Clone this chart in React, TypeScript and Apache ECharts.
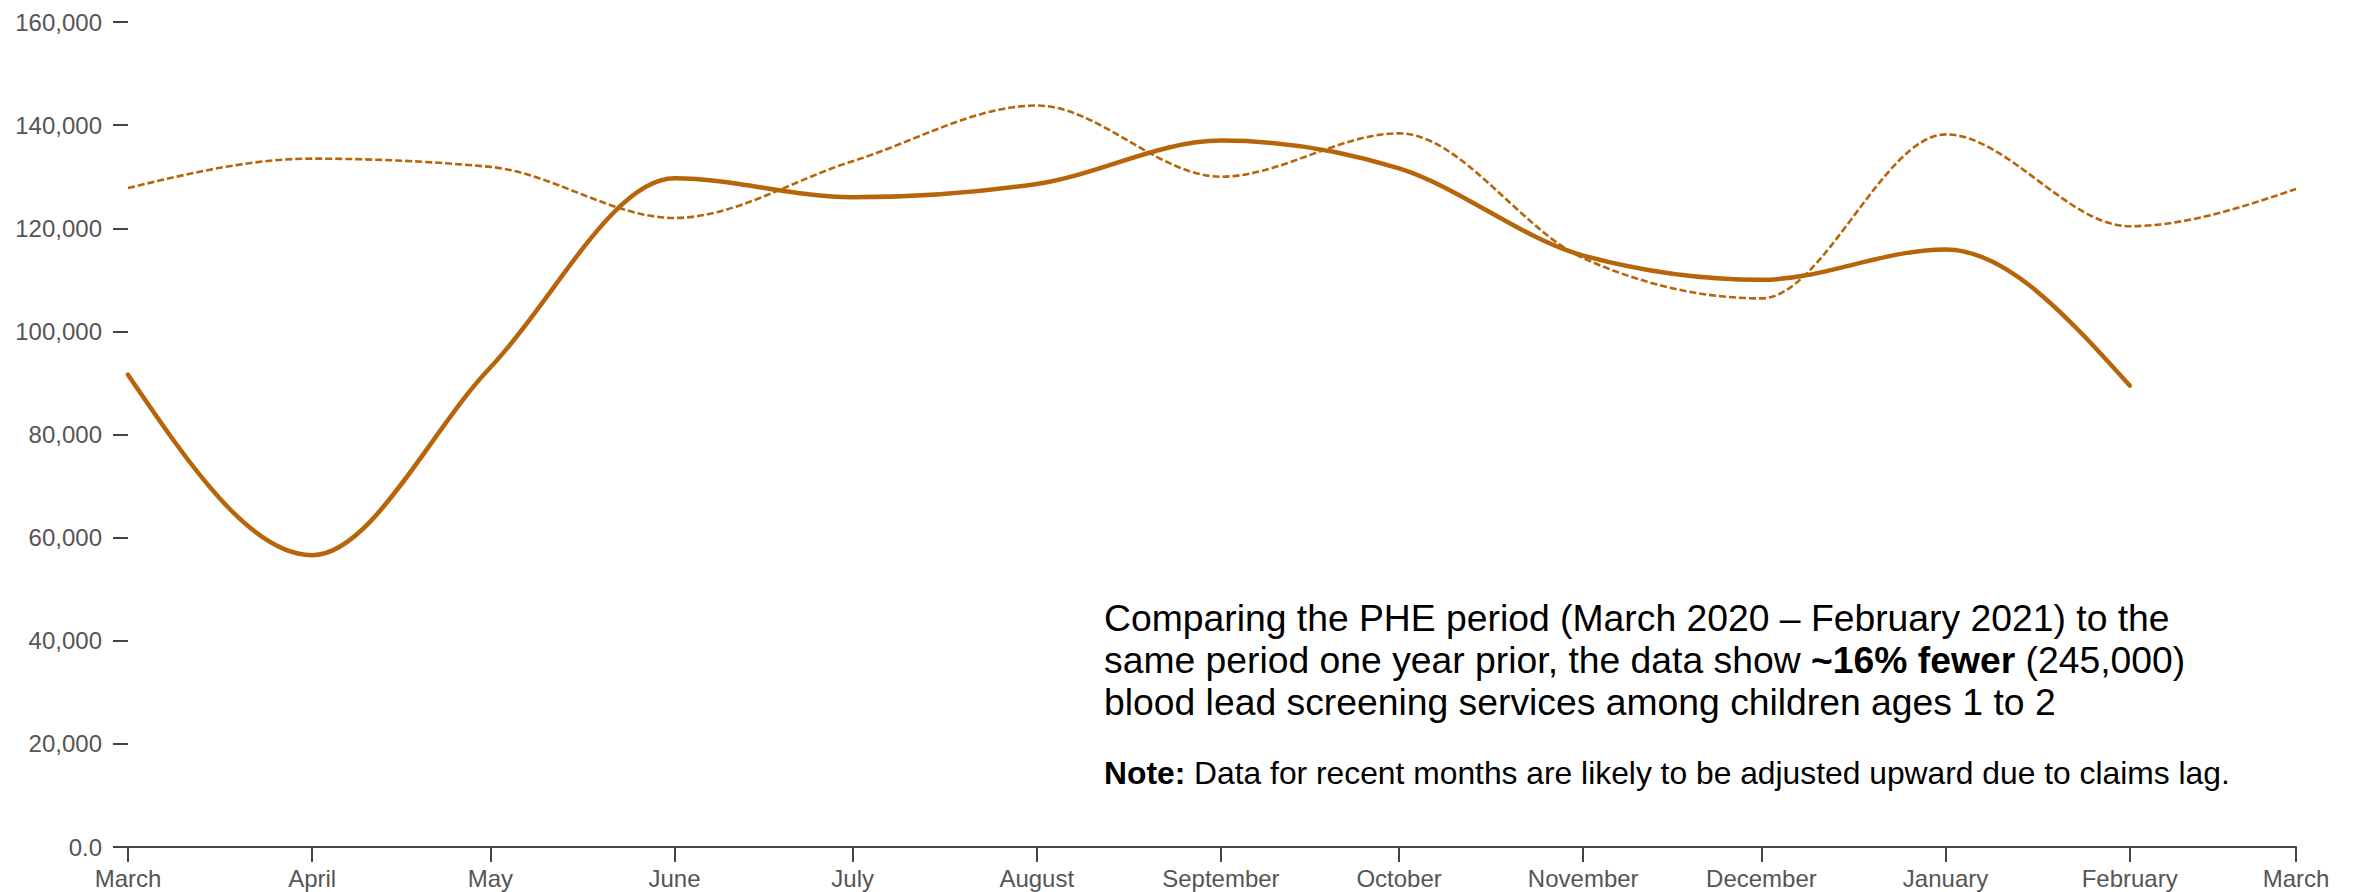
import React, { useEffect, useRef } from "react";
import * as echarts from "echarts";

// ---- Data ----
const monthStarts2020: string[] = [
  "2020-03-01", "2020-04-01", "2020-05-01", "2020-06-01", "2020-07-01", "2020-08-01",
  "2020-09-01", "2020-10-01", "2020-11-01", "2020-12-01", "2021-01-01", "2021-02-01", "2021-03-01",
];
// PHE period, March 2020 – February 2021 (solid)
const phePeriod: number[] = [
  91600, 56600, 93000, 129700, 126000, 128600, 137000, 131600, 114700, 110000, 115900, 89500,
];
// Same period one year prior (dashed), plotted on the same month axis
const priorYear: number[] = [
  127800, 133500, 131900, 122000, 133000, 143800, 130000, 138400, 114200, 106400, 138200, 120400, 127600,
];
const monthNames: string[] = [
  "January", "February", "March", "April", "May", "June",
  "July", "August", "September", "October", "November", "December",
];
const yTicks: number[] = [0, 20000, 40000, 60000, 80000, 100000, 120000, 140000, 160000];

const annotationLines: string[] = [
  "Comparing the PHE period (March 2020 – February 2021) to the",
  "same period one year prior, the data show {b|~16% fewer} (245,000)",
  "blood lead screening services among children ages 1 to 2",
];
const noteLine = "{b|Note:} Data for recent months are likely to be adjusted upward due to claims lag.";

const LINE_COLOR = "#B7650A";
const AXIS_TEXT = "#555555";
const FONT = "'Liberation Sans', Arial, Helvetica, sans-serif";

function toUTC(s: string): number {
  const [y, m, d] = s.split("-").map(Number);
  return Date.UTC(y, m - 1, d);
}

// Monotone-X cubic path (same maths as d3.curveMonotoneX) through pixel points
function monotonePath(pts: number[][]): string {
  const n = pts.length;
  if (n === 0) return "";
  if (n === 1) return `M${pts[0][0]},${pts[0][1]}`;
  if (n === 2) return `M${pts[0][0]},${pts[0][1]}L${pts[1][0]},${pts[1][1]}`;
  const sign = (x: number) => (x < 0 ? -1 : 1);
  const t: number[] = new Array(n).fill(0);
  for (let i = 1; i < n - 1; i++) {
    const [x0, y0] = pts[i - 1];
    const [x1, y1] = pts[i];
    const [x2, y2] = pts[i + 1];
    const h0 = x1 - x0;
    const h1 = x2 - x1;
    const s0 = (y1 - y0) / (h0 || (h1 < 0 ? -0 : 0));
    const s1 = (y2 - y1) / (h1 || (h0 < 0 ? -0 : 0));
    const p = (s0 * h1 + s1 * h0) / (h0 + h1);
    t[i] = (sign(s0) + sign(s1)) * Math.min(Math.abs(s0), Math.abs(s1), 0.5 * Math.abs(p)) || 0;
  }
  {
    const h = pts[1][0] - pts[0][0];
    t[0] = h ? (3 * (pts[1][1] - pts[0][1]) / h - t[1]) / 2 : t[1];
    const hl = pts[n - 1][0] - pts[n - 2][0];
    t[n - 1] = hl ? (3 * (pts[n - 1][1] - pts[n - 2][1]) / hl - t[n - 2]) / 2 : t[n - 2];
  }
  let d = `M${pts[0][0]},${pts[0][1]}`;
  for (let i = 0; i < n - 1; i++) {
    const [x0, y0] = pts[i];
    const [x1, y1] = pts[i + 1];
    const dx = (x1 - x0) / 3;
    d += `C${x0 + dx},${y0 + dx * t[i]},${x1 - dx},${y1 - dx * t[i + 1]},${x1},${y1}`;
  }
  return d;
}

export default function App() {
  const ref = useRef<HTMLDivElement>(null);

  useEffect(() => {
    document.body.style.margin = "0";
    if (!ref.current) return;
    const chart = echarts.init(ref.current, null, { renderer: "svg" });

    const phe = phePeriod.map((v, i) => [toUTC(monthStarts2020[i]), v]);
    const prior = priorYear.map((v, i) => [toUTC(monthStarts2020[i]), v]);

    const makeRender = (data: number[][], style: any) => (params: any, api: any) => {
      if (params.dataIndex !== 0) return null;
      const pts = data.map((d) => api.coord(d));
      return {
        type: "path",
        shape: { pathData: monotonePath(pts) },
        style: { fill: "none", stroke: LINE_COLOR, ...style },
        silent: true,
      };
    };

    const textX = 1104;
    const lineYs = [620, 662, 704];

    chart.setOption({
      animation: false,
      useUTC: true,
      backgroundColor: "#ffffff",
      grid: {
        left: 128,
        right: 65,
        top: 22,
        bottom: 45,
        containLabel: false,
        outerBoundsMode: "none",
      },
      xAxis: {
        type: "time",
        min: toUTC(monthStarts2020[0]),
        max: toUTC(monthStarts2020[monthStarts2020.length - 1]),
        splitNumber: 12,
        minInterval: 28 * 86400000,
        maxInterval: 31 * 86400000,
        axisLine: { show: true, lineStyle: { color: "#444444", width: 2 } },
        axisTick: { show: true, length: 15, lineStyle: { color: "#444444", width: 2 } },
        splitLine: { show: false },
        axisLabel: {
          show: true,
          color: AXIS_TEXT,
          fontSize: 24,
          fontFamily: FONT,
          margin: 19,
          showMinLabel: true,
          showMaxLabel: true,
          hideOverlap: false,
          formatter: (val: number) => monthNames[new Date(val).getUTCMonth()],
        },
      },
      yAxis: {
        type: "value",
        min: yTicks[0],
        max: yTicks[yTicks.length - 1],
        interval: yTicks[1] - yTicks[0],
        axisLine: { show: false },
        axisTick: { show: true, length: 15, lineStyle: { color: "#444444", width: 2 } },
        splitLine: { show: false },
        axisLabel: {
          color: AXIS_TEXT,
          fontSize: 24,
          fontFamily: FONT,
          margin: 26,
          formatter: (v: number) => (v === 0 ? "0.0" : v.toLocaleString("en-US")),
        },
      },
      series: [
        {
          name: "Prior year",
          type: "custom",
          data: prior,
          encode: { x: 0, y: 1 },
          renderItem: makeRender(prior, { lineWidth: 2.6, lineDash: [7, 3] }),
          z: 2,
        },
        {
          name: "PHE period",
          type: "custom",
          data: phe,
          encode: { x: 0, y: 1 },
          renderItem: makeRender(phe, { lineWidth: 4.5, lineCap: "round", lineJoin: "round" }),
          z: 3,
        },
      ],
      graphic: [
        ...annotationLines.map((t, i) => ({
          type: "text",
          left: textX,
          top: lineYs[i] - 21,
          style: {
            text: t,
            fill: "#000000",
            fontSize: 37.3,
            fontFamily: FONT,
            rich: {
              b: { fontWeight: "bold", fontSize: 37.3, fontFamily: FONT, fill: "#000000" },
            },
          },
        })),
        {
          type: "text",
          left: textX,
          top: 775 - 18,
          style: {
            text: noteLine,
            fill: "#000000",
            fontSize: 31.8,
            fontFamily: FONT,
            rich: {
              b: { fontWeight: "bold", fontSize: 31.8, fontFamily: FONT, fill: "#000000" },
            },
          },
        },
      ],
    });

    return () => {
      chart.dispose();
    };
  }, []);

  return <div ref={ref} style={{ width: 2361, height: 892 }} />;
}
